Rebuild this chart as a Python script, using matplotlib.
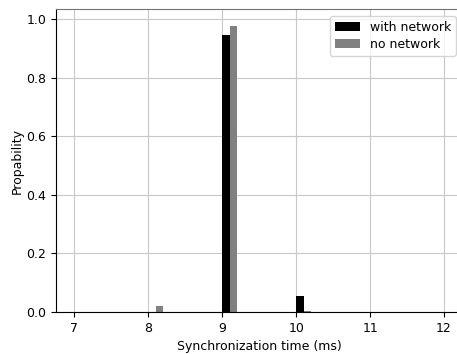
import matplotlib
matplotlib.use("Agg")
import matplotlib.pyplot as plt
import numpy as np

# synchronization time bins (ms) and probabilities
times = np.array([7, 8, 9, 10, 11, 12])
with_network = np.array([0.0, 0.0, 0.944, 0.056, 0.0, 0.0])
no_network = np.array([0.0, 0.02, 0.977, 0.003, 0.0, 0.0])

plt.rcParams['font.size'] = 9
fig = plt.figure(figsize=(4.57, 3.54), dpi=100)
ax = fig.add_axes([0.1225, 0.1186, 0.8895, 0.856])

w = 0.1
ax.bar(times, with_network, width=w, align='edge', color='black',
       label='with network', zorder=2)
ax.bar(times + w, no_network, width=w, align='edge', color='gray',
       label='no network', zorder=2)

ax.set_xlim(6.75, 12.25)
ax.set_ylim(0, 1.034)
ax.set_xticks(np.arange(7, 13, 1))
ax.set_yticks(np.arange(0, 1.01, 0.2))
ax.grid(color='#c8c8c8', linewidth=0.8, zorder=0)
ax.set_axisbelow(True)
ax.spines['top'].set_color('0.45')
ax.spines['right'].set_color('0.45')

ax.set_xlabel("Synchronization time (ms)")
ax.set_ylabel("Propability", labelpad=2)
ax.legend(loc='upper right', bbox_to_anchor=(0.984, 0.977),
          borderaxespad=0, labelspacing=0.3)

fig.savefig("out.png", dpi=100)
